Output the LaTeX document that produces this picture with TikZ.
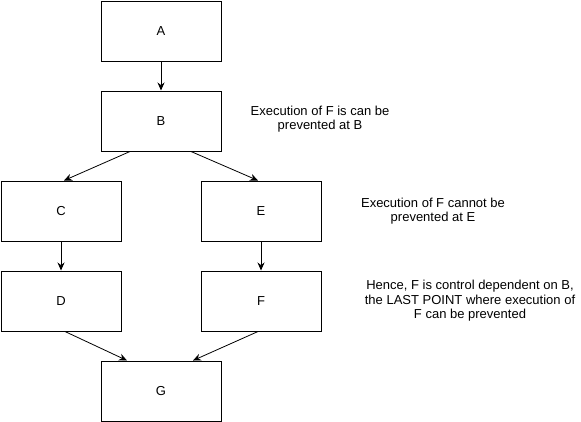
\documentclass[tikz,border=0pt]{standalone}
\usepackage{fontspec}
\setmainfont{Liberation Sans}
\usetikzlibrary{arrows.meta,positioning}

\begin{document}
\begin{tikzpicture}
[x=1pt, y=-1pt, draw=black, line width=1pt,
block/.style={rectangle, draw, fill=white, inner sep=0pt, minimum width=120pt, minimum height=60pt, font=\fontsize{13}{15}\selectfont},
note/.style={align=center, inner sep=0pt, font=\fontsize{13}{14.5}\selectfont},
link/.style={-{Stealth[length=8pt,width=7pt]}, line width=0.8pt}
]
\useasboundingbox (0,0) rectangle (581,421);

\node[block] (A) at (161,31) {A};
\node[block] (B) at (161,121) {B};
\node[block] (C) at (61,211) {C};
\node[block] (E) at (261,211) {E};
\node[block] (D) at (61,301) {D};
\node[block] (F) at (261,301) {F};
\node[block] (G) at (161,391) {G};

\draw[link] (A) -- (B);
\draw[link] ([xshift=-31pt]B.south) -- ([xshift=3pt]C.north);
\draw[link] ([xshift=30pt]B.south) -- ([xshift=-3pt]E.north);
\draw[link] (C) -- (D);
\draw[link] (E) -- (F);
\draw[link] ([xshift=4pt]D.south) -- ([xshift=-34pt]G.south |- G.north);
\draw[link] ([xshift=-3pt]F.south) -- ([xshift=32pt]G.south |- G.north);

\node[note] (noteB) at (320,119) {Execution of F is can be\\prevented at B};
\node[note] (noteE) at (433,211) {Execution of F cannot be\\prevented at E};
\node[note] (noteF) at (470,301) {Hence, F is control dependent on B,\\the LAST POINT where execution of\\F can be prevented};
\end{tikzpicture}
\end{document}
